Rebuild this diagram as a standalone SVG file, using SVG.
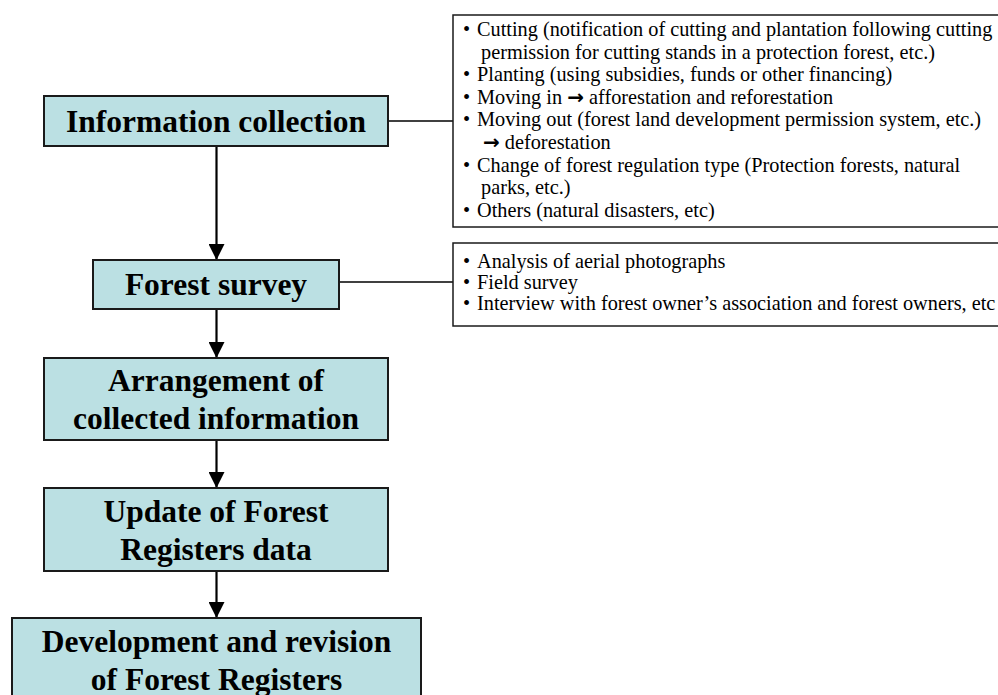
<svg xmlns="http://www.w3.org/2000/svg" width="998" height="695" viewBox="0 0 998 695">
<defs>
<style>
.step{fill:#BBE0E3;stroke:#1a1a1a;stroke-width:2}
.st{font-family:"Liberation Serif","Times New Roman",serif;font-weight:bold;font-size:31.5px;fill:#000;text-anchor:middle}
.note{fill:#fff;stroke:#1a1a1a;stroke-width:1.5}
.nt{font-family:"Liberation Serif","Times New Roman",serif;font-size:20.3px;fill:#000}
.ar{font-family:"DejaVu Sans",sans-serif;font-weight:bold;font-size:20px}
.arr{stroke:#000;stroke-width:2.2;fill:none}
.ln{stroke:#000;stroke-width:1.5;fill:none}
</style>
<marker id="ah" viewBox="0 0 16 16" refX="16" refY="8" markerWidth="16" markerHeight="16" markerUnits="userSpaceOnUse" orient="auto">
<path d="M0,0 L16,8 L0,16 Z" fill="#000"/>
</marker>
</defs>
<rect width="998" height="695" fill="#fff"/>
<g id="connectors">
<line class="arr" x1="216.5" y1="146" x2="216.5" y2="260" marker-end="url(#ah)"/>
<line class="arr" x1="216.5" y1="309" x2="216.5" y2="358" marker-end="url(#ah)"/>
<line class="arr" x1="216.5" y1="440" x2="216.5" y2="488" marker-end="url(#ah)"/>
<line class="arr" x1="216.5" y1="571" x2="216.5" y2="618" marker-end="url(#ah)"/>
<line class="ln" x1="388" y1="121" x2="453" y2="121"/>
<line class="ln" x1="339" y1="282" x2="453" y2="282"/>
</g>
<g id="info-collection">
<rect class="step" x="44" y="96" width="344" height="50"/>
<text class="st" x="216" y="132">Information collection</text>
</g>
<g id="forest-survey">
<rect class="step" x="93" y="260" width="246" height="49"/>
<text class="st" x="216" y="295">Forest survey</text>
</g>
<g id="arrangement">
<rect class="step" x="44" y="358" width="344" height="82"/>
<text class="st" x="216" y="391">Arrangement of</text>
<text class="st" x="216" y="429">collected information</text>
</g>
<g id="update">
<rect class="step" x="44" y="488" width="344" height="83"/>
<text class="st" x="216" y="522">Update of Forest</text>
<text class="st" x="216" y="560">Registers data</text>
</g>
<g id="development">
<rect class="step" x="12" y="618" width="409" height="90"/>
<text class="st" x="216.5" y="652">Development and revision</text>
<text class="st" x="216.5" y="690">of Forest Registers</text>
</g>
<g id="info-details">
<rect class="note" x="453" y="15" width="560" height="212"/>
<text class="nt" x="463" y="36">•</text><text class="nt" x="477" y="36">Cutting (notification of cutting and plantation following cutting</text>
<text class="nt" x="481" y="58.6">permission for cutting stands in a protection forest, etc.)</text>
<text class="nt" x="463" y="81.2">•</text><text class="nt" x="477" y="81.2">Planting (using subsidies, funds or other financing)</text>
<text class="nt" x="463" y="103.8">•</text><text class="nt" x="477" y="103.8">Moving in <tspan class="ar">→</tspan> afforestation and reforestation</text>
<text class="nt" x="463" y="126.4">•</text><text class="nt" x="477" y="126.4">Moving out (forest land development permission system, etc.)</text>
<text class="nt" x="483" y="149"><tspan class="ar">→</tspan> deforestation</text>
<text class="nt" x="463" y="171.6">•</text><text class="nt" x="477" y="171.6">Change of forest regulation type (Protection forests, natural</text>
<text class="nt" x="481" y="194.2">parks, etc.)</text>
<text class="nt" x="463" y="216.8">•</text><text class="nt" x="477" y="216.8">Others (natural disasters, etc)</text>
</g>
<g id="survey-details">
<rect class="note" x="453" y="243" width="560" height="83"/>
<text class="nt" x="463" y="268">•</text><text class="nt" x="477" y="268">Analysis of aerial photographs</text>
<text class="nt" x="463" y="289">•</text><text class="nt" x="477" y="289">Field survey</text>
<text class="nt" x="463" y="310">•</text><text class="nt" x="477" y="310">Interview with forest owner’s association and forest owners, etc</text>
</g>
</svg>
